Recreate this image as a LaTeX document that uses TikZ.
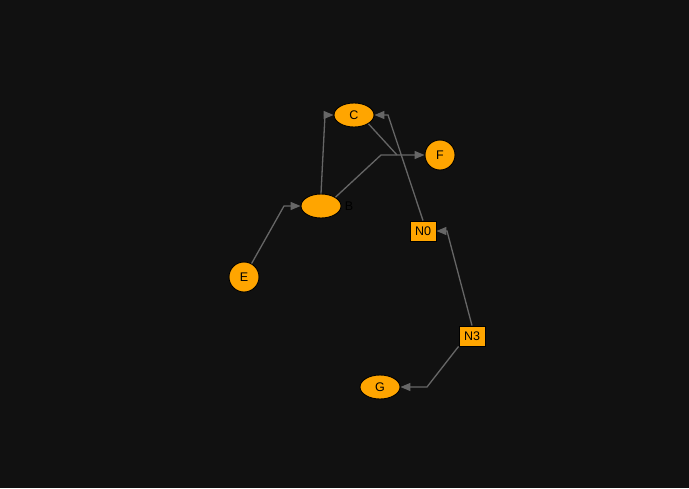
\documentclass[tikz,border=0pt]{standalone}
\usepackage{fontspec}
\setmainfont{Liberation Sans}
\usetikzlibrary{shapes.geometric,arrows.meta}
\definecolor{bg}{HTML}{111111}
\definecolor{nodeor}{HTML}{FFA500}
\definecolor{edgegray}{HTML}{666666}
\begin{document}
\begin{tikzpicture}[x=1pt,y=-1pt,
  every node/.style={font=\fontsize{12.5}{14}\selectfont, text=black},
  ell/.style={ellipse, fill=nodeor, draw=black, line width=0.9pt, minimum width=40pt, minimum height=24pt, inner sep=0pt},
  circ/.style={circle, fill=nodeor, draw=black, line width=0.9pt, minimum size=30pt, inner sep=0pt},
  box/.style={rectangle, fill=nodeor, draw=black, line width=0.9pt, minimum width=26pt, minimum height=20pt, inner sep=1pt},
  edge/.style={draw=edgegray, line width=1.3pt, -{Triangle[length=10pt,width=8pt]}},
  plain/.style={draw=edgegray, line width=1.3pt}]
\fill[bg] (0,0) rectangle (689,488);
\useasboundingbox (0,0) rectangle (689,488);
\node[ell] (C) at (354,115) {C};
\node[circ] (F) at (440,155) {F};
\node[ell] (B) at (321,206) {};
\node (Blabel) at (349,206) {B};
\node[circ] (E) at (244,277) {E};
\node[box] (N0) at (423,231) {N0};
\node[box] (N3) at (472,336) {N3};
\node[ell] (G) at (380,387) {G};
\coordinate (cend) at (397,155);
\draw[edge] (E) -- (284,206) -- (B.west);
\draw[edge] (B.north) -- (325,115) -- (C.west);
\draw[edge] (B.north east) -- (381,155) -- (F.west);
\draw[edge] (N0.north) -- (388,115) -- (C.east);
\draw[edge] (N3.north) -- (447,231) -- (N0.east);
\draw[edge] (N3.south west) -- (427,387) -- (G.east);
\draw[plain] (C.south east) -- (cend);
\end{tikzpicture}
\end{document}
